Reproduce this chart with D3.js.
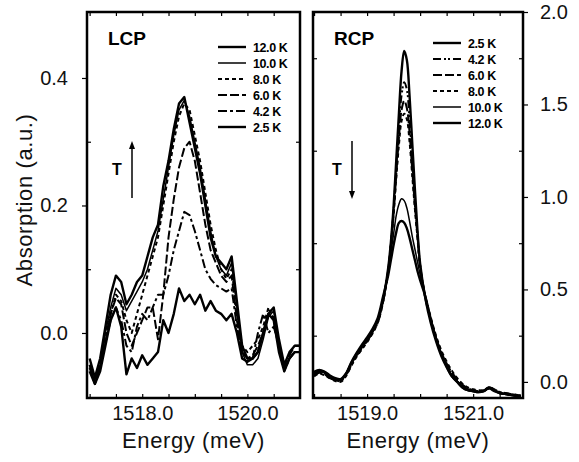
<!DOCTYPE html>
<html>
<head>
<meta charset="utf-8">
<script src="https://cdn.jsdelivr.net/npm/d3@7"></script>
<style>
  body { margin: 0; background: #fff; }
  svg { font-family: "Liberation Sans", Arial, sans-serif; }
</style>
</head>
<body>
<svg class="chart" width="579" height="462"></svg>
<script>
// ---- LCP panel data ----
const lcpEnergy = [1517.0, 1517.1, 1517.2, 1517.3, 1517.4, 1517.5, 1517.6, 1517.7, 1517.8, 1517.9,
  1518.0, 1518.1, 1518.2, 1518.3, 1518.4, 1518.5, 1518.6, 1518.7, 1518.8, 1518.9,
  1519.0, 1519.1, 1519.2, 1519.3, 1519.4, 1519.5, 1519.6, 1519.7, 1519.8, 1519.9,
  1520.0, 1520.1, 1520.2, 1520.3, 1520.4, 1520.5, 1520.6, 1520.7, 1520.8, 1520.9, 1521.0];
const lcp12 = [-0.04, -0.07, -0.04, 0.01, 0.06, 0.09, 0.08, 0.045, 0.06, 0.08,
  0.09, 0.12, 0.15, 0.17, 0.23, 0.27, 0.32, 0.36, 0.37, 0.33,
  0.29, 0.25, 0.2, 0.15, 0.12, 0.11, 0.1, 0.12, 0.05, -0.02,
  -0.04, -0.04, -0.03, 0.0, 0.03, 0.04, -0.01, -0.05, -0.03, -0.02, -0.02];
const lcp10 = [-0.05, -0.08, -0.05, 0.0, 0.04, 0.07, 0.06, 0.035, 0.05, 0.065,
  0.08, 0.1, 0.13, 0.16, 0.21, 0.26, 0.31, 0.35, 0.365, 0.34,
  0.3, 0.26, 0.21, 0.16, 0.12, 0.1, 0.09, 0.11, 0.04, -0.03,
  -0.05, -0.05, -0.04, -0.01, 0.025, 0.035, -0.02, -0.055, -0.04, -0.03, -0.03];
const lcp8 = [-0.05, -0.075, -0.05, -0.01, 0.03, 0.06, 0.05, 0.02, 0.0, 0.03,
  0.06, 0.09, 0.12, 0.15, 0.2, 0.25, 0.3, 0.34, 0.36, 0.35,
  0.31, 0.27, 0.22, 0.17, 0.13, 0.1, 0.085, 0.1, 0.03, -0.02,
  -0.03, -0.02, -0.01, 0.01, 0.04, 0.02, -0.02, -0.06, -0.04, -0.03, -0.03];
const lcp6 = [-0.055, -0.08, -0.055, -0.015, 0.03, 0.055, 0.045, 0.0, -0.02, 0.0,
  0.02, 0.04, 0.04, -0.01, 0.06, 0.15, 0.21, 0.26, 0.29, 0.3,
  0.27, 0.22, 0.17, 0.13, 0.11, 0.09, 0.08, 0.09, 0.02, -0.03,
  -0.04, -0.035, -0.02, 0.0, 0.03, 0.025, -0.02, -0.05, -0.035, -0.02, -0.02];
const lcp42 = [-0.05, -0.075, -0.05, -0.015, 0.02, 0.04, 0.02, -0.02, -0.03, 0.01,
  0.03, 0.02, 0.04, 0.06, 0.06, 0.09, 0.13, 0.16, 0.19, 0.185,
  0.16, 0.13, 0.1, 0.085, 0.075, 0.07, 0.065, 0.07, 0.01, -0.03,
  -0.04, -0.04, 0.0, 0.03, 0.0, 0.01, -0.02, -0.05, -0.04, -0.03, -0.03];
const lcp25 = [-0.06, -0.08, -0.06, -0.02, 0.02, 0.04, 0.01, -0.065, -0.04, -0.055,
  -0.035, -0.05, -0.04, -0.03, 0.02, 0.0, 0.03, 0.07, 0.05, 0.06,
  0.045, 0.06, 0.035, 0.05, 0.035, 0.03, 0.02, 0.03, 0.0, -0.04,
  -0.045, -0.04, -0.03, 0.0, 0.03, 0.02, -0.03, -0.06, -0.04, -0.03, -0.03];

// ---- RCP panel data ----
const rcpEnergy = [1518.0, 1518.1, 1518.2, 1518.3, 1518.4, 1518.5, 1518.6, 1518.7, 1518.8, 1518.9,
  1519.0, 1519.1, 1519.2, 1519.3,
  1519.4, 1519.45, 1519.5, 1519.55, 1519.6, 1519.65, 1519.7, 1519.75, 1519.8, 1519.85, 1519.9, 1519.95, 1520.0,
  1520.1, 1520.2, 1520.3, 1520.4, 1520.5, 1520.6, 1520.7, 1520.8, 1520.9, 1521.0,
  1521.1, 1521.2, 1521.3, 1521.4, 1521.5, 1521.6, 1521.7, 1521.8, 1521.9];
const rcp25 = [0.05, 0.06, 0.05, 0.03, 0.015, 0.01, 0.04, 0.1, 0.15, 0.19, 0.23, 0.27, 0.33, 0.44,
  0.62, 0.76, 0.95, 1.2, 1.45, 1.68, 1.79, 1.74, 1.55, 1.3, 1.05, 0.82, 0.64,
  0.45, 0.32, 0.22, 0.14, 0.08, 0.03, 0.0, -0.03, -0.045, -0.05, -0.055, -0.05, -0.03, -0.045, -0.06, -0.065, -0.07, -0.075, -0.08];
const rcp42 = [0.04, 0.055, 0.045, 0.025, 0.01, 0.005, 0.035, 0.09, 0.14, 0.18, 0.22, 0.265, 0.32, 0.43,
  0.61, 0.75, 0.93, 1.15, 1.37, 1.55, 1.62, 1.58, 1.42, 1.2, 0.98, 0.8, 0.63,
  0.45, 0.33, 0.23, 0.15, 0.09, 0.04, 0.01, -0.02, -0.04, -0.05, -0.05, -0.045, -0.03, -0.04, -0.055, -0.06, -0.065, -0.07, -0.075];
const rcp6 = [0.035, 0.05, 0.04, 0.02, 0.01, 0.01, 0.04, 0.095, 0.145, 0.185, 0.225, 0.27, 0.33, 0.44,
  0.61, 0.75, 0.92, 1.12, 1.32, 1.47, 1.52, 1.48, 1.35, 1.15, 0.96, 0.79, 0.63,
  0.46, 0.34, 0.24, 0.16, 0.1, 0.05, 0.015, -0.015, -0.035, -0.045, -0.05, -0.045, -0.035, -0.045, -0.06, -0.065, -0.07, -0.07, -0.075];
const rcp8 = [0.03, 0.045, 0.035, 0.02, 0.005, 0.0, 0.03, 0.085, 0.135, 0.175, 0.215, 0.26, 0.32, 0.43,
  0.6, 0.74, 0.9, 1.1, 1.28, 1.41, 1.45, 1.42, 1.3, 1.12, 0.94, 0.78, 0.62,
  0.46, 0.35, 0.25, 0.17, 0.11, 0.06, 0.02, -0.01, -0.03, -0.04, -0.045, -0.045, -0.03, -0.04, -0.055, -0.06, -0.065, -0.07, -0.075];
const rcp10 = [0.045, 0.06, 0.05, 0.03, 0.02, 0.015, 0.045, 0.1, 0.15, 0.195, 0.235, 0.28, 0.34, 0.45,
  0.6, 0.7, 0.8, 0.9, 0.96, 0.99, 0.98, 0.94, 0.87, 0.79, 0.72, 0.65, 0.58,
  0.46, 0.34, 0.24, 0.15, 0.09, 0.035, 0.005, -0.025, -0.04, -0.05, -0.055, -0.05, -0.035, -0.045, -0.06, -0.065, -0.07, -0.075, -0.08];
const rcp12 = [0.055, 0.065, 0.055, 0.035, 0.02, 0.015, 0.045, 0.105, 0.155, 0.2, 0.24, 0.285, 0.345, 0.46,
  0.58, 0.66, 0.74, 0.81, 0.86, 0.87, 0.86, 0.83, 0.78, 0.72, 0.66, 0.6, 0.55,
  0.46, 0.34, 0.235, 0.15, 0.085, 0.03, 0.0, -0.03, -0.045, -0.05, -0.055, -0.05, -0.035, -0.05, -0.06, -0.065, -0.07, -0.075, -0.08];

// legend order and line styles
const lcpLabels = ["12.0 K", "10.0 K", "8.0 K", "6.0 K", "4.2 K", "2.5 K"];
const rcpLabels = ["2.5 K", "4.2 K", "6.0 K", "8.0 K", "10.0 K", "12.0 K"];
const styles = {
  "12.0 K": { dash: null, width: 2.4 },
  "10.0 K": { dash: null, width: 1.5 },
  "8.0 K": { dash: "4,3", width: 2 },
  "6.0 K": { dash: "9,3", width: 2 },
  "4.2 K": { dash: "9,3,3,3", width: 2 },
  "2.5 K": { dash: null, width: 2.4 }
};
const rcpStyles = Object.assign({}, styles, { "4.2 K": { dash: "8,3,2,2,2,3", width: 2 } });

const lcpSeries = { "12.0 K": lcp12, "10.0 K": lcp10, "8.0 K": lcp8, "6.0 K": lcp6, "4.2 K": lcp42, "2.5 K": lcp25 };
const rcpSeries = { "2.5 K": rcp25, "4.2 K": rcp42, "6.0 K": rcp6, "8.0 K": rcp8, "10.0 K": rcp10, "12.0 K": rcp12 };

const svg = d3.select(".chart");
const frameTop = 12, frameBottom = 398;

function panel(opts) {
  const x = d3.scaleLinear().domain(opts.xDomain).range([opts.left, opts.right]);
  const y = d3.scaleLinear().domain(opts.yDomain).range([frameBottom, frameTop]);
  const g = svg.append("g");

  g.append("clipPath").attr("id", opts.id + "-clip")
    .append("rect").attr("x", opts.left).attr("y", frameTop)
    .attr("width", opts.right - opts.left).attr("height", frameBottom - frameTop);

  // minor ticks, inward
  const minorX = d3.range(Math.ceil(opts.xDomain[0] * 2) / 2, opts.xDomain[1], 0.5);
  g.append("g").attr("transform", `translate(0,${frameBottom})`)
    .call(d3.axisBottom(x).tickValues(minorX).tickSize(-4).tickFormat(""));
  g.append("g").attr("transform", `translate(0,${frameTop})`)
    .call(d3.axisTop(x).tickValues(minorX).tickSize(-4).tickFormat(""));

  // major x labels
  g.append("g").attr("transform", `translate(0,${frameBottom})`)
    .call(d3.axisBottom(x).tickValues(opts.xTicks).tickSize(0).tickPadding(8).tickFormat(d3.format(".1f")));

  // y axis
  const yAxis = opts.yRight
    ? d3.axisRight(y).tickValues(opts.yTicks).tickSize(5).tickPadding(12).tickFormat(d3.format(".1f"))
    : d3.axisLeft(y).tickValues(opts.yTicks).tickSize(5).tickPadding(14).tickFormat(d3.format(".1f"));
  g.append("g").attr("transform", `translate(${opts.yRight ? opts.right : opts.left},0)`).call(yAxis);
  g.append("g").attr("transform", `translate(${opts.yRight ? opts.left : opts.right},0)`)
    .call((opts.yRight ? d3.axisLeft(y) : d3.axisRight(y)).tickValues(opts.yMinor).tickSize(-4).tickFormat(""));
  g.append("g").attr("transform", `translate(${opts.yRight ? opts.right : opts.left},0)`)
    .call((opts.yRight ? d3.axisRight(y) : d3.axisLeft(y)).tickValues(opts.yMinor).tickSize(-4).tickFormat(""));

  g.selectAll(".domain").remove();
  g.selectAll(".tick line").attr("stroke", "#000").attr("stroke-width", 1.2);
  g.selectAll(".tick text").attr("font-size", 20).attr("fill", "#111");

  // curves
  const line = d3.line()
    .x(d => x(d[0])).y(d => y(d[1]))
    .curve(opts.smooth ? d3.curveCatmullRom : d3.curveLinear);
  const cg = g.append("g").attr("clip-path", `url(#${opts.id}-clip)`);
  opts.labels.slice().reverse().forEach(k => {
    const pts = opts.energy.map((e, i) => [e, opts.series[k][i]]);
    cg.append("path").attr("d", line(pts))
      .attr("fill", "none").attr("stroke", "#000")
      .attr("stroke-width", opts.styles[k].width)
      .attr("stroke-linejoin", "round")
      .attr("stroke-dasharray", opts.styles[k].dash);
  });

  // frame
  g.append("rect").attr("x", opts.left).attr("y", frameTop)
    .attr("width", opts.right - opts.left).attr("height", frameBottom - frameTop)
    .attr("fill", "none").attr("stroke", "#000").attr("stroke-width", 2.5);

  // panel title
  g.append("text").attr("x", opts.left + 21).attr("y", 45)
    .attr("font-size", 19).attr("font-weight", "bold").text(opts.title);

  // legend
  const lg = g.append("g");
  opts.labels.forEach((k, i) => {
    const ly = opts.legendY + i * 16;
    lg.append("line").attr("x1", opts.legendX).attr("x2", opts.legendX + 28)
      .attr("y1", ly).attr("y2", ly).attr("stroke", "#000")
      .attr("stroke-width", opts.styles[k].width)
      .attr("stroke-dasharray", opts.styles[k].dash);
    lg.append("text").attr("x", opts.legendX + 35).attr("y", ly + 4.5)
      .attr("font-size", 12.5).attr("font-weight", "bold").attr("letter-spacing", -0.4)
      .text(k);
  });

  // T arrow
  g.append("text").attr("x", opts.tX).attr("y", 175)
    .attr("font-size", 16).attr("font-weight", "bold").text("T");
  const ax = opts.tX + 20;
  const y1 = opts.arrowUp ? 198 : 141, y2 = opts.arrowUp ? 141 : 199;
  g.append("line").attr("x1", ax).attr("x2", ax).attr("y1", y1).attr("y2", opts.arrowUp ? y2 + 6 : y2 - 6)
    .attr("stroke", "#000").attr("stroke-width", 1.5);
  const s = opts.arrowUp ? 1 : -1;
  g.append("path").attr("d", `M${ax},${y2} L${ax - 3},${y2 + s * 8} L${ax + 3},${y2 + s * 8} Z`).attr("fill", "#000");

  // x title
  g.append("text").attr("x", (opts.left + opts.right) / 2).attr("y", 448)
    .attr("text-anchor", "middle").attr("font-size", 22).attr("letter-spacing", 0.6).attr("fill", "#111")
    .text("Energy (meV)");
}

panel({
  id: "lcp", title: "LCP", left: 87, right: 300,
  xDomain: [1516.95, 1521.0], yDomain: [-0.102, 0.5035],
  xTicks: [1518.0, 1520.0], yTicks: [0.0, 0.2, 0.4], yMinor: [0.1, 0.3],
  energy: lcpEnergy, series: lcpSeries, labels: lcpLabels, styles: styles,
  legendX: 218, legendY: 47, tX: 112, arrowUp: true, smooth: false, yRight: false
});

panel({
  id: "rcp", title: "RCP", left: 313, right: 523,
  xDomain: [1517.98, 1521.94], yDomain: [-0.087, 2.0],
  xTicks: [1519.0, 1521.0], yTicks: [0.0, 0.5, 1.0, 1.5, 2.0], yMinor: [0.25, 0.75, 1.25, 1.75],
  energy: rcpEnergy, series: rcpSeries, labels: rcpLabels, styles: rcpStyles,
  legendX: 433, legendY: 43, tX: 332, arrowUp: false, smooth: true, yRight: true
});

// y axis title
svg.append("text")
  .attr("transform", "translate(32,200) rotate(-90)")
  .attr("text-anchor", "middle").attr("font-size", 22).attr("letter-spacing", 0.6).attr("fill", "#111")
  .text("Absorption (a.u.)");
</script>
</body>
</html>
